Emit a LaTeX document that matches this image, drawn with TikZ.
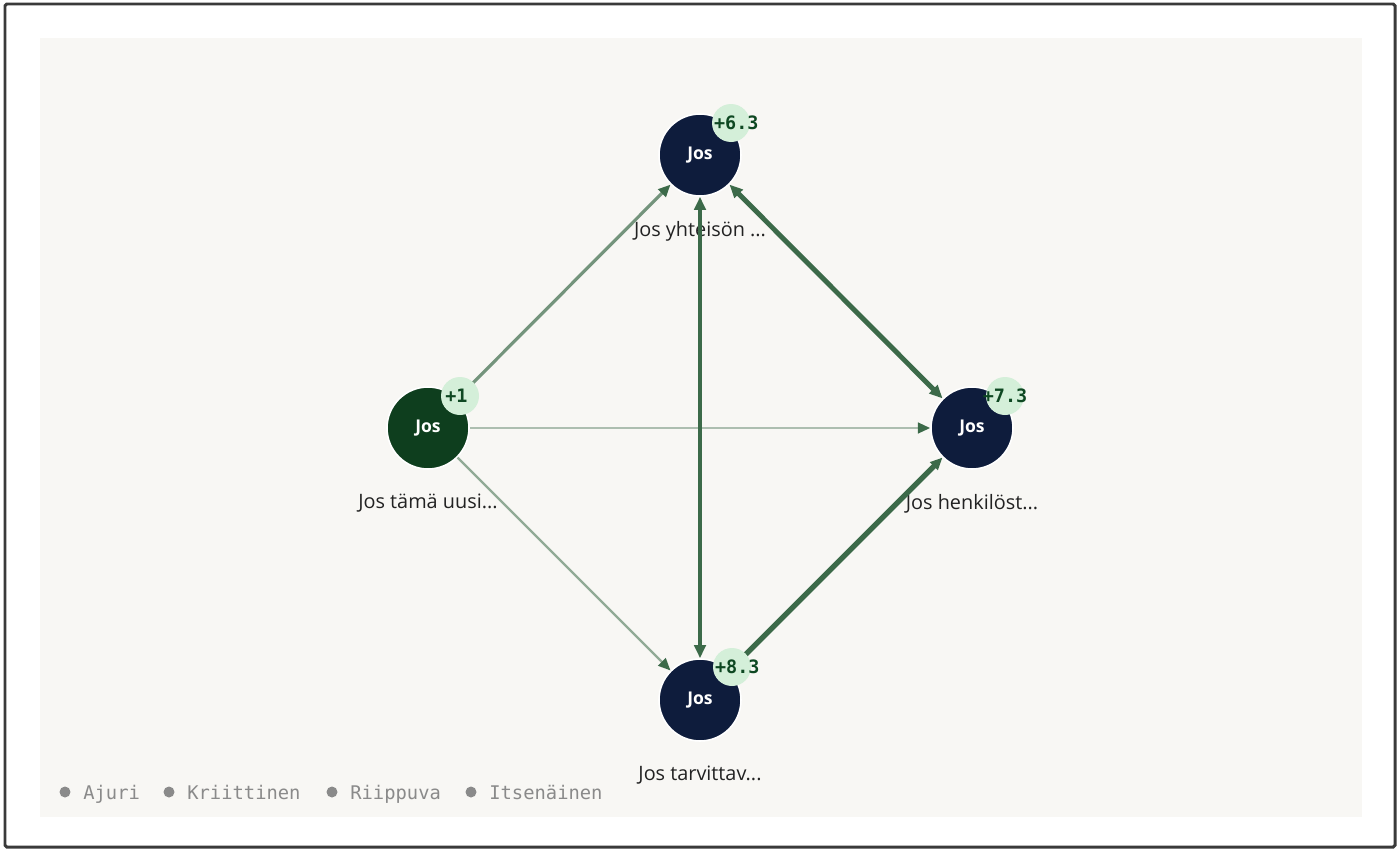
\documentclass[tikz,border=0pt]{standalone}
\usepackage{fontspec}
\setsansfont{Open Sans}
\newfontfamily\legendfont{DejaVu Sans Mono}
\usetikzlibrary{arrows.meta,positioning}

\tikzset{
  jnode/.style={circle, draw=white, line width=0.9pt, minimum size=1.64cm, inner sep=0pt,
    text=white, font=\sffamily\bfseries\fontsize{10}{12}\selectfont},
  badge/.style={circle, fill=badgegreen, minimum size=0.76cm, inner sep=0pt},
  score/.style={font=\legendfont\bfseries\fontsize{10.5}{12}\selectfont, text=scoregreen},
  caption/.style={font=\sffamily\fontsize{11.3}{13}\selectfont, text=captiongray},
  legenddot/.style={circle, fill=legendgray, minimum size=0.22cm, inner sep=0pt},
  legendtext/.style={font=\legendfont\fontsize{10.7}{12}\selectfont, text=legendgray,
    anchor=base west, inner sep=0pt},
  link/.style={-{Triangle[length=7pt,width=6pt,color=edgegreen]}},
  biglink/.style={{Triangle[length=7.5pt,width=6.5pt,color=edgegreen]}-{Triangle[length=7.5pt,width=6.5pt,color=edgegreen]}}
}

\begin{document}
\begin{tikzpicture}[x=0.02cm,y=-0.02cm]

    % Define colors
    \definecolor{panel}{RGB}{248,247,244}
    \definecolor{framegray}{RGB}{58,58,58}
    \definecolor{navy}{RGB}{14,28,60}
    \definecolor{drivergreen}{RGB}{14,62,30}
    \definecolor{badgegreen}{RGB}{212,239,217}
    \definecolor{scoregreen}{RGB}{14,72,34}
    \definecolor{edgegreen}{RGB}{60,106,73}
    \definecolor{captiongray}{RGB}{34,34,34}
    \definecolor{legendgray}{RGB}{138,138,138}

    \useasboundingbox (0,0) rectangle (1399,849);
    \draw[framegray, line width=1.7pt, rounded corners=1pt] (5,4) rectangle (1395,847);
    \fill[panel] (40,38) rectangle (1362,817);

    % factors
    \node[jnode, fill=navy] (top) at (700,155) {Jos};
    \node[jnode, fill=drivergreen] (left) at (428,428) {Jos};
    \node[jnode, fill=navy] (right) at (972,428) {Jos};
    \node[jnode, fill=navy] (bottom) at (700,700) {Jos};

    \node[caption, below=0.36cm of top] (topcap) {Jos yhteisön ...};
    \node[caption, below=0.36cm of left] (leftcap) {Jos tämä uusi...};
    \node[caption, below=0.36cm of right] (rightcap) {Jos henkilöst...};
    \node[caption, below=0.36cm of bottom] (bottomcap) {Jos tarvittav...};

    % links
    \draw[link, edgegreen!70!panel, line width=1.8pt] (left) -- (top);
    \draw[link, edgegreen!40!panel, line width=1.5pt] (left) -- (right);
    \draw[link, edgegreen!55!panel, line width=1.3pt] (left) -- (bottom);
    \draw[biglink, edgegreen, line width=2.8pt] (top) -- (bottom);
    \draw[biglink, edgegreen, line width=2.8pt] (top) -- (right);
    \draw[link, edgegreen, line width=3pt] (bottom) -- (right);

    % scores
    \node[badge] (topbadge) at ([shift={(31,-32)}]top) {};
    \node[badge] (leftbadge) at ([shift={(32,-32)}]left) {};
    \node[badge] (rightbadge) at ([shift={(33,-32)}]right) {};
    \node[badge] (bottombadge) at ([shift={(32,-33)}]bottom) {};
    \node[score] at ([xshift=3]topbadge) {+6.3};
    \node[score] at ([xshift=-2]leftbadge) {+1};
    \node[score] at (rightbadge) {+7.3};
    \node[score] at ([xshift=3]bottombadge) {+8.3};

    % legend
    \node[legenddot] (d1) at (65,792) {};
    \node[legenddot] (d2) at (169,792) {};
    \node[legenddot] (d3) at (332,792) {};
    \node[legenddot] (d4) at (471,792) {};
    \node[legendtext] at ([shift={(18,7)}]d1) {Ajuri};
    \node[legendtext] at ([shift={(18,7)}]d2) {Kriittinen};
    \node[legendtext] at ([shift={(18,7)}]d3) {Riippuva};
    \node[legendtext] at ([shift={(18,7)}]d4) {Itsenäinen};

\end{tikzpicture}
\end{document}
